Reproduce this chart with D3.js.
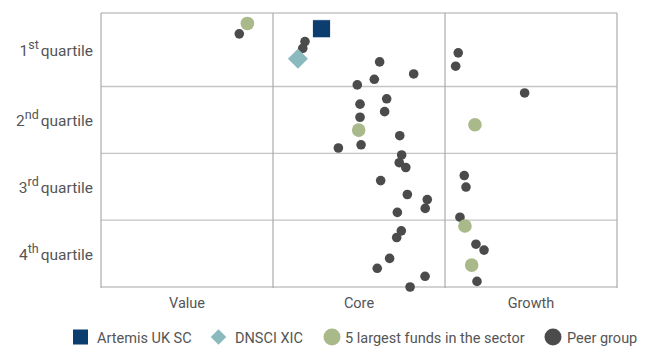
<!DOCTYPE html>
<html><head><meta charset="utf-8">
<script src="https://cdn.jsdelivr.net/npm/d3@7/dist/d3.min.js"></script>
<style>body{margin:0;background:#fff}svg{display:block}text{font-family:Roboto,"Open Sans",sans-serif;fill:#555}</style>
</head><body><svg id="c" width="650" height="356"></svg>
<script>
// Style categories (x) and quartile labels (y)
const styles = ["Value", "Core", "Growth"];
const quartiles = [["1","st"],["2","nd"],["3","rd"],["4","th"]];
const quartileBounds = [-2.5, 25, 50, 75, 100];
// x: style score 0-300, y: percentile rank 0 (best) - 100 (worst)
const artemis = [{x:128.2, y:3.4}];
const dnsci = [{x:114.5, y:14.6}];
const largest = [
  {x:85.1,y:1.4},{x:149.8,y:41.3},{x:217.4,y:39.3},{x:211.6,y:77.2},{x:215.5,y:91.8}
];
const peerX = [80.4,118.6,117.3,207.7,206.2,162.0,181.8,158.9,149.0,246.3,166.1,150.6,164.9,150.6,173.7,151.2,138.0,
  174.8,173.4,177.2,162.6,211.2,212.2,178.1,189.7,188.5,172.3,208.7,174.6,171.9,218.0,222.7,167.8,160.6,188.4,218.6,179.7];
const peerY = [5.3,8.2,10.7,12.4,17.4,15.8,20.3,22.3,24.4,27.4,29.6,31.6,34.4,36.5,43.4,46.8,48.0,
  50.6,53.5,55.3,60.2,58.3,62.6,65.4,67.3,70.6,72.1,73.9,79.0,81.5,84.0,86.2,89.3,93.0,96.0,97.9,100.0];
const legendLabels = ["Artemis UK SC","DNSCI XIC","5 largest funds in the sector","Peer group"];
const colors = {artemis:"#0b3d6e", dnsci:"#8bbabe", largest:"#a9b98a", peer:"#4b4b4b"};

const svg = d3.select("#c");
const L=101, R=617, T=13, B=287;
const x = d3.scaleLinear().domain([0,300]).range([L,R]);
const y = d3.scaleLinear().domain([quartileBounds[0],100]).range([T,B]);

const g = svg.append("g");
// horizontal grid
g.selectAll(".h").data(quartileBounds).join("line")
  .attr("x1",L).attr("x2",R).attr("y1",d=>y(d)).attr("y2",d=>y(d))
  .attr("stroke","#c4c4c4").attr("stroke-width",1.4);
// vertical grid
g.selectAll(".v").data([0,100,200,300]).join("line")
  .attr("y1",T).attr("y2",B+1).attr("x1",d=>x(d)).attr("x2",d=>x(d))
  .attr("stroke","#acacac").attr("stroke-width",1.2);

// x labels
svg.selectAll(".xl").data(styles).join("text")
  .attr("x",(d,i)=>x(i*100+50)).attr("y",308).attr("text-anchor","middle")
  .attr("font-size",14.5).text(d=>d);

// y labels
const yl = svg.selectAll(".yl").data(quartiles).join("text")
  .attr("x",93).attr("y",(d,i)=>y((quartileBounds[i]+quartileBounds[i+1])/2)+6)
  .attr("text-anchor","end").attr("font-size",15.5);
yl.append("tspan").text(d=>d[0]);
yl.append("tspan").attr("dy",-6.5).attr("font-size",12.5).text(d=>d[1]);
yl.append("tspan").attr("dy",6.5).attr("dx",2).text("quartile");

// peers
const peers = peerX.map((v,i)=>({x:v,y:peerY[i]}));
svg.append("g").selectAll("circle").data(peers).join("circle")
  .attr("cx",d=>x(d.x)).attr("cy",d=>y(d.y)).attr("r",4.8).attr("fill",colors.peer);
// largest
svg.append("g").selectAll("circle").data(largest).join("circle")
  .attr("cx",d=>x(d.x)).attr("cy",d=>y(d.y)).attr("r",6.8).attr("fill",colors.largest);
// dnsci
svg.append("g").selectAll("path").data(dnsci).join("path")
  .attr("d",d3.symbol(d3.symbolSquare,200)())
  .attr("transform",d=>`translate(${x(d.x)},${y(d.y)}) rotate(45)`)
  .attr("fill",colors.dnsci);
// artemis
svg.append("g").selectAll("rect").data(artemis).join("rect")
  .attr("x",d=>x(d.x)-9).attr("y",d=>y(d.y)-9).attr("width",18).attr("height",18)
  .attr("fill",colors.artemis).attr("stroke","#fff").attr("stroke-width",0.8);

// legend
const legX = [73, 218.5, 332, 553];
const ly = 337;
const leg = svg.append("g");
leg.append("rect").attr("x",legX[0]).attr("y",ly-7.5).attr("width",15).attr("height",15).attr("fill",colors.artemis);
leg.append("path").attr("d",d3.symbol(d3.symbolSquare,120)()).attr("transform",`translate(${legX[1]},${ly}) rotate(45)`).attr("fill",colors.dnsci);
leg.append("circle").attr("cx",legX[2]).attr("cy",ly).attr("r",8.5).attr("fill",colors.largest);
leg.append("circle").attr("cx",legX[3]).attr("cy",ly).attr("r",8.5).attr("fill",colors.peer);
const textX = [97, 235, 345, 567];
leg.selectAll("text").data(legendLabels).join("text")
  .attr("x",(d,i)=>textX[i]).attr("y",ly+5.5).attr("font-size",14.5).text(d=>d);
</script></body></html>
